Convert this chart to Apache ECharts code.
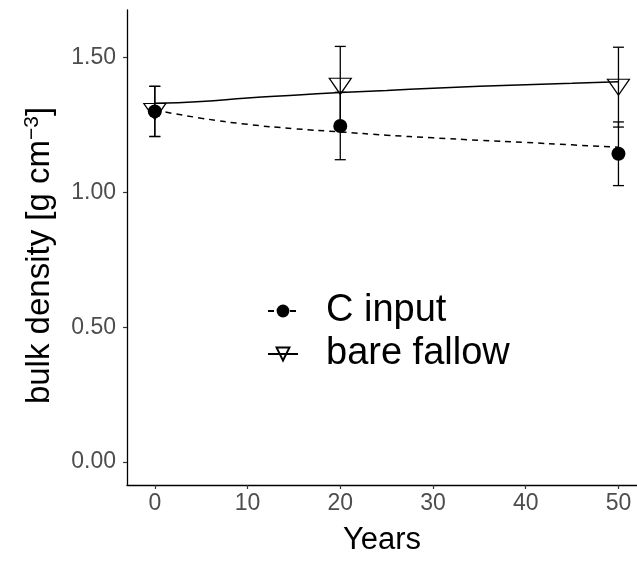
<!DOCTYPE html>
<html>
<head>
<meta charset="utf-8">
<script src="https://cdn.jsdelivr.net/npm/echarts@6/dist/echarts.min.js"></script>
<style>html,body{margin:0;padding:0;background:#fff}#c{width:637px;height:561px}</style>
</head>
<body>
<div id="c"></div>
<script>
// measured points (mean and standard error)
var years = [0, 20, 50];
var cMean = [1.30, 1.246, 1.143];
var cSE = [0.093, 0.125, 0.118];
var bfMean = [1.30, 1.393, 1.39];
var bfSE = [0.093, 0.148, 0.148];
// fitted curves
var fitYears = [0, 5, 10, 15, 20, 25, 30, 35, 40, 45, 50];
var cFit = [1.305, 1.275, 1.252, 1.236, 1.224, 1.212, 1.202, 1.193, 1.185, 1.176, 1.167];
var bfFit = [1.33, 1.337, 1.35, 1.36, 1.37, 1.378, 1.386, 1.393, 1.399, 1.404, 1.41];
var xTicks = [0, 10, 20, 30, 40, 50];
var yTicks = [0, 0.5, 1.0, 1.5];

var FONT = '"Liberation Sans", Arial, sans-serif';
var TRI = 'path://M0,0L22,0L11,16Z';

function pairs(xs, ys) { return xs.map(function (x, i) { return [x, ys[i]]; }); }
function errData(m, se) { return years.map(function (x, i) { return [x, m[i] - se[i], m[i] + se[i]]; }); }

function errRender(params, api) {
  var x = api.value(0);
  var lo = api.coord([x, api.value(1)]);
  var hi = api.coord([x, api.value(2)]);
  var hw = 5.5;
  var st = { stroke: '#000', lineWidth: 1.3 };
  return {
    type: 'group',
    children: [
      { type: 'line', shape: { x1: lo[0], y1: lo[1], x2: hi[0], y2: hi[1] }, style: st },
      { type: 'line', shape: { x1: lo[0] - hw, y1: lo[1], x2: lo[0] + hw, y2: lo[1] }, style: st },
      { type: 'line', shape: { x1: hi[0] - hw, y1: hi[1], x2: hi[0] + hw, y2: hi[1] }, style: st }
    ]
  };
}

var chart = echarts.init(document.getElementById('c'), null, { renderer: 'canvas' });
chart.setOption({
  animation: false,
  backgroundColor: '#fff',
  grid: { left: 127, right: 0, top: 10, bottom: 73, containLabel: false },
  legend: {
    orient: 'vertical',
    left: 262,
    top: 287,
    itemWidth: 30,
    itemHeight: 16,
    itemGap: 5,
    data: ['C input', 'bare fallow'],
    textStyle: { fontSize: 38, fontFamily: FONT, color: '#000', padding: [0, 0, 0, 23] }
  },
  xAxis: {
    type: 'value', min: -3, max: 52,
    name: 'Years', nameLocation: 'middle', nameGap: 40,
    nameTextStyle: { fontSize: 31, fontFamily: FONT, color: '#000', verticalAlign: 'top' },
    axisLine: { show: true, onZero: false, lineStyle: { color: '#000', width: 1.3 } },
    axisTick: { show: true, length: 4, lineStyle: { color: '#333', width: 1.2 }, customValues: xTicks },
    axisLabel: { fontSize: 23, fontFamily: FONT, color: '#4d4d4d', margin: 7, customValues: xTicks },
    splitLine: { show: false }
  },
  yAxis: {
    type: 'value', min: -0.085, max: 1.676,
    name: 'bulk density [g cm{sup|\u22123}]', nameLocation: 'middle', nameGap: 70, nameRotate: 90,
    nameTextStyle: { fontSize: 33, fontFamily: FONT, color: '#000', padding: [0, 16, 0, 0],
      rich: { sup: { fontSize: 21, fontFamily: FONT, color: '#000', verticalAlign: 'top', padding: [0, 0, 14, 0] } } },
    axisLine: { show: true, onZero: false, lineStyle: { color: '#000', width: 1.3 } },
    axisTick: { show: true, length: 4, lineStyle: { color: '#333', width: 1.2 }, customValues: yTicks },
    axisLabel: { fontSize: 23, fontFamily: FONT, color: '#4d4d4d', margin: 11, customValues: yTicks,
      formatter: function (v) { return v.toFixed(2); } },
    splitLine: { show: false }
  },
  series: [
    { name: 'C input', type: 'line', data: pairs(fitYears, cFit), smooth: true, showSymbol: false,
      symbol: 'circle', symbolSize: 12, itemStyle: { color: '#000' },
      lineStyle: { color: '#000', width: 1.5, type: [6, 5] }, z: 2 },
    { name: 'bare fallow', type: 'line', data: pairs(fitYears, bfFit), smooth: true, showSymbol: false,
      symbol: TRI, symbolSize: [20, 15], itemStyle: { color: 'rgba(0,0,0,0)', borderColor: '#000', borderWidth: 1.2 },
      lineStyle: { color: '#000', width: 1.5 }, z: 2 },
    { name: 'bare fallow', type: 'custom', renderItem: errRender, data: errData(bfMean, bfSE), z: 3 },
    { name: 'C input', type: 'custom', renderItem: errRender, data: errData(cMean, cSE), z: 3 },
    { name: 'bare fallow', type: 'scatter', data: pairs(years, bfMean), symbol: TRI, symbolSize: [22, 16],
      itemStyle: { color: 'rgba(0,0,0,0)', borderColor: '#000', borderWidth: 1.2, opacity: 1 }, z: 4 },
    { name: 'C input', type: 'scatter', data: pairs(years, cMean), symbol: 'circle', symbolSize: 14,
      itemStyle: { color: '#000', opacity: 1 }, z: 5 }
  ]
});
</script>
</body>
</html>
